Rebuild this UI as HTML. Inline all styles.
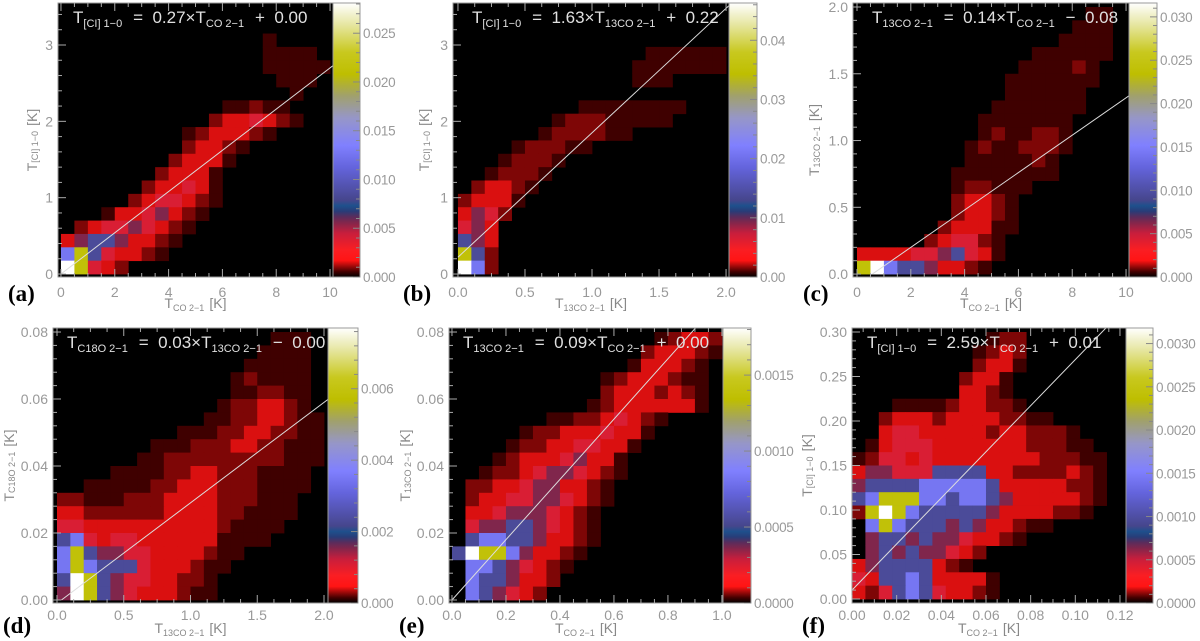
<!DOCTYPE html>
<html><head><meta charset="utf-8"><style>
html,body{margin:0;padding:0;background:#fff;width:1200px;height:641px;overflow:hidden}
svg{display:block}
text{white-space:pre}
</style></head><body>
<svg id="fig" width="1200" height="641" viewBox="0 0 1200 641" xmlns="http://www.w3.org/2000/svg"></svg>
<script>
// ---------- data ----------
const levelValues=[0,0.018,0.032,0.052,0.14,0.2,0.3,0.45,0.76,1.0];
const gridA=["","","15:1","15:1111","15:11111","16:111","17:1","12:11211","11:2334321","9:1233321","9:23321","8:23331","7:23331","6:233431","5:2344321","3:13345321","1:234454321","0:356653321","0:78643321","0:98432"];
const gridB=["","","","14:111111","13:1111111","13:111","","9:11111111","7:122211111","6:1222211","4:122211","3:12221","2:12221","1:23321","0:23331","0:3542","0:453","0:653","0:862","0:972"];
const gridC=["17:11","16:111","15:1111","13:111111","12:111121","11:1111111","11:111111","10:1111111","9:1111111","9:1211221","8:12112221","8:1111121","7:11111111","7:122111","7:23321","7:23321","6:233311","5:234421","0:33334456431","0:8976653321"];
const gridD=["16:111","15:1111","14:11111","13:121111","13:112211","12:1223321","11:112233211","9:11122332211","7:1112223322111","6:11222222222111","4:111122332221111","2:11111223332221111","0:221112223333222111","0:332222223333221111","0:44333333333321111","0:6743443333331111","0:78655443333211","0:7876664333211","0:698654433221","0:598654333211"];
const gridE=["15:12332","14:233321","13:133321","11:12333211","11:23332321","10:123333331","7:112234321","5:1223334331","4:1223344331","3:1233345331","2:12234554321","1:22334553321","1:23344554321","1:3345554321","1:4556654321","1:6776653321","0:6988753321","1:77654321","1:7665332","1:765432"];
const gridF=["10:122","9:1232","9:2331","8:2331","8:3321","3:1111233221","2:2333233332211","2:344333332332221","1:13444333333322211","0:1244343333333322211","0:3554446666332222321","0:5666677777633333221","0:6788877677653333321","0:289876666653333221","0:078766656533211","0:0566565543321","0:0565655432","0:356666321","0:43667633331","0:32467643321"];
const grids=[gridA,gridB,gridC,gridD,gridE,gridF];
const gridXMax=[10,2,10,2,1,0.12];
const gridYMax=[3.5,3.5,2,0.08,0.08,0.30];
const fitSlope=[0.27,1.63,0.14,0.03,0.09,2.59];
const fitIntercept=[0.00,0.22,-0.08,-0.001,0.00,0.01];
const xTickVals=[[0,2,4,6,8,10],[0,0.5,1,1.5,2],[0,2,4,6,8,10],[0,0.5,1,1.5,2],[0,0.2,0.4,0.6,0.8,1.0],[0,0.02,0.04,0.06,0.08,0.10,0.12]];
const xTickLabels=[["0","2","4","6","8","10"],["0.0","0.5","1.0","1.5","2.0"],["0","2","4","6","8","10"],["0.0","0.5","1.0","1.5","2.0"],["0.0","0.2","0.4","0.6","0.8","1.0"],["0.00","0.02","0.04","0.06","0.08","0.10","0.12"]];
const yTickVals=[[0,1,2,3],[0,1,2,3],[0,0.5,1,1.5,2],[0,0.02,0.04,0.06,0.08],[0,0.02,0.04,0.06,0.08],[0,0.05,0.10,0.15,0.20,0.25,0.30]];
const yTickLabels=[["0","1","2","3"],["0","1","2","3"],["0.0","0.5","1.0","1.5","2.0"],["0.00","0.02","0.04","0.06","0.08"],["0.00","0.02","0.04","0.06","0.08"],["0.00","0.05","0.10","0.15","0.20","0.25","0.30"]];
const cbMax=[0.0281,0.0463,0.0316,0.0077,0.00181,0.00318];
const cbTickVals=[[0,0.005,0.010,0.015,0.020,0.025],[0,0.01,0.02,0.03,0.04],[0,0.005,0.010,0.015,0.020,0.025,0.030],[0,0.002,0.004,0.006],[0,0.0005,0.0010,0.0015],[0,0.0005,0.0010,0.0015,0.0020,0.0025,0.0030]];
const cbTickLabels=[["0.000","0.005","0.010","0.015","0.020","0.025"],["0.00","0.01","0.02","0.03","0.04"],["0.000","0.005","0.010","0.015","0.020","0.025","0.030"],["0.000","0.002","0.004","0.006"],["0.0000","0.0005","0.0010","0.0015"],["0.0000","0.0005","0.0010","0.0015","0.0020","0.0025","0.0030"]];
const yVar=["[CI] 1−0","[CI] 1−0","13CO 2−1","C18O 2−1","13CO 2−1","[CI] 1−0"];
const xVar=["CO 2−1","13CO 2−1","CO 2−1","13CO 2−1","CO 2−1","CO 2−1"];
const panelLetters=["(a)","(b)","(c)","(d)","(e)","(f)"];

// ---------- layout ----------
const layout=[
 {L:58,R:333,T:3,B:277,xd:[-0.11,10.11],yd:[-0.039,3.55],cbR:360,eqX:73,ytX:33,row:0},
 {L:453,R:729,T:3,B:277,xd:[-0.037,2.022],yd:[-0.039,3.55],cbR:757,eqX:472,ytX:425,row:0},
 {L:853,R:1129,T:3,B:277,xd:[-0.149,10.11],yd:[-0.022,2.03],cbR:1157,eqX:872,ytX:815,row:0},
 {L:53,R:328,T:328,B:603,xd:[-0.03,2.03],yd:[-0.0009,0.0812],cbR:358,eqX:67,ytX:10,row:1},
 {L:449,R:723,T:328,B:603,xd:[-0.011,1.004],yd:[-0.0009,0.0812],cbR:751,eqX:463,ytX:406,row:1},
 {L:852,R:1126,T:328,B:603,xd:[0,0.1227],yd:[-0.0045,0.3045],cbR:1153,eqX:867,ytX:808,row:1}
];
const cmapStops=[[0,[0,0,0]],[0.02,[70,0,0]],[0.06,[255,20,20]],[0.10,[250,30,35]],[0.16,[200,30,60]],[0.21,[110,40,80]],[0.235,[60,50,110]],[0.245,[20,70,130]],[0.26,[30,80,140]],[0.28,[70,70,140]],[0.40,[100,100,220]],[0.48,[128,128,255]],[0.58,[150,150,200]],[0.66,[160,160,110]],[0.74,[190,190,0]],[0.82,[200,200,30]],[0.92,[230,230,160]],[1,[255,255,255]]];
function cmap(f){
  f=Math.max(0,Math.min(1,f));
  for(let i=1;i<cmapStops.length;i++){
    if(f<=cmapStops[i][0]){
      const a=cmapStops[i-1],b=cmapStops[i],t=(f-a[0])/(b[0]-a[0]);
      const c=a[1].map((v,k)=>Math.round(v+(b[1][k]-v)*t));
      return `rgb(${c[0]},${c[1]},${c[2]})`;
    }
  }
  return "rgb(255,255,255)";
}
const NS="http://www.w3.org/2000/svg";
const svg=document.getElementById('fig');
function mk(tag,attrs,parent){const e=document.createElementNS(NS,tag);for(const k in attrs)e.setAttribute(k,attrs[k]);(parent||svg).appendChild(e);return e;}
function sub(textEl,main,s,mainSize,subSize){
  const a=mk('tspan',{},textEl);a.textContent=main;a.setAttribute('font-size',mainSize);
  if(s){const b=mk('tspan',{dy:subSize*0.35,'font-size':subSize},textEl);b.textContent=s;
    const c=mk('tspan',{dy:-subSize*0.35,'font-size':mainSize},textEl);c.textContent='\u200A';}
}
const defs=mk('defs',{});
const gradEl=mk('linearGradient',{id:'cbgrad',x1:0,y1:1,x2:0,y2:0},defs);
for(let i=0;i<=50;i++){mk('stop',{offset:i/50,'stop-color':cmap(i/50)},gradEl);}

layout.forEach((P,p)=>{
  const g=mk('g',{});
  
  
  const sx=v=>P.L+(v-P.xd[0])/(P.xd[1]-P.xd[0])*(P.R-P.L);
  const sy=v=>P.B-(v-P.yd[0])/(P.yd[1]-P.yd[0])*(P.B-P.T);
  const clip=mk('clipPath',{id:'clip'+p},defs);
  mk('rect',{x:P.L,y:P.T,width:P.R-P.L,height:P.B-P.T},clip);
  const bg=mk('rect',{x:P.L,y:P.T,width:P.R-P.L,height:P.B-P.T,fill:'#000'},g);
  
  
  const hm=mk('g',{'clip-path':`url(#clip${p})`},g);
  
  
  const grid=grids[p],nR=grid.length,nC=20;
  const dx=gridXMax[p]/nC,dy=gridYMax[p]/nR;
  grid.forEach((row,r)=>{
    if(!row)return;
    const [st,digits]=row.split(':');const s0=parseInt(st);
    for(let k=0;k<digits.length;k++){
      const lv=parseInt(digits[k]);if(!lv)continue;
      const c=s0+k;
      const x0=sx(c*dx),x1=sx((c+1)*dx);
      const yTop=sy(gridYMax[p]-r*dy),yBot=sy(gridYMax[p]-(r+1)*dy);
      const cell=mk('rect',{x:x0.toFixed(2),y:yTop.toFixed(2),width:(x1-x0+0.4).toFixed(2),height:(yBot-yTop+0.4).toFixed(2),fill:cmap(levelValues[lv])},hm);
      
      
    }
  });
  const xs=Math.max(0,-fitIntercept[p]/fitSlope[p]),xe=P.xd[1];
  const fl=mk('line',{x1:sx(xs),y1:sy(fitSlope[p]*xs+fitIntercept[p]),x2:sx(xe),y2:sy(fitSlope[p]*xe+fitIntercept[p]),stroke:'#ddd','stroke-width':1,'clip-path':`url(#clip${p})`},g);
  
  
  mk('rect',{x:P.L,y:P.T,width:P.R-P.L,height:P.B-P.T,fill:'none',stroke:'#999','stroke-width':1},g);
  const tg=mk('g',{stroke:'#aaa','stroke-width':1},g);
  const xv=xTickVals[p],yv=yTickVals[p];
  const xstep=xv[1]-xv[0],ystep=yv[1]-yv[0];
  for(let v=xv[0];v<=P.xd[1]+1e-9;v+=xstep/4){
    const major=Math.abs(Math.round((v-xv[0])/xstep)*xstep-(v-xv[0]))<1e-9;const len=major?8:4;const X=sx(v);
    if(X<P.L||X>P.R)continue;
    mk('line',{x1:X,y1:P.B,x2:X,y2:P.B-len},tg);mk('line',{x1:X,y1:P.T,x2:X,y2:P.T+len},tg);
  }
  for(let v=yv[0];v<=P.yd[1]+1e-9;v+=ystep/5){
    const major=Math.abs(Math.round((v-yv[0])/ystep)*ystep-(v-yv[0]))<1e-9;const len=major?8:4;const Y=sy(v);
    if(Y<P.T||Y>P.B)continue;
    mk('line',{x1:P.L,y1:Y,x2:P.L+len,y2:Y},tg);
  }
  const labY=P.row===0?297:620;
  xv.forEach((v,i)=>{const t=mk('text',{x:sx(v),y:labY,'text-anchor':'middle','font-size':14,fill:'#999','font-family':'Liberation Sans, sans-serif'},g);t.textContent=xTickLabels[p][i];
    
    });
  yv.forEach((v,i)=>{const t=mk('text',{x:P.L-5,y:sy(v)+5,'text-anchor':'end','font-size':14,fill:'#999','font-family':'Liberation Sans, sans-serif'},g);t.textContent=yTickLabels[p][i];
    
    });
  const xt=mk('text',{x:(P.L+P.R)/2,y:P.row===0?308:633,'text-anchor':'middle',fill:'#888','font-family':'Liberation Sans, sans-serif'},g);
  
  
  sub(xt,'T',xVar[p],14,9);const xr=mk('tspan',{'font-size':14},xt);xr.textContent=' [K]';
  const cy=(P.T+P.B)/2;
  const yt=mk('text',{x:P.ytX,y:cy,'text-anchor':'middle',fill:'#888','font-family':'Liberation Sans, sans-serif',transform:`rotate(-90 ${P.ytX} ${cy})`,'dominant-baseline':'middle'},g);
  
  
  sub(yt,'T',yVar[p],14,9);const yr=mk('tspan',{'font-size':14},yt);yr.textContent=' [K]';
  const eq=mk('text',{x:P.eqX,y:P.T+20,fill:'#e0e0e0','font-family':'Liberation Sans, sans-serif'},g);
  
  
  const sgn=fitIntercept[p]<0?'−':'+';
  sub(eq,'T',yVar[p],17,11);
  sub(eq,'  =  '+fitSlope[p].toFixed(2)+'×T',xVar[p],17,11);
  const e3=mk('tspan',{'font-size':17},eq);e3.textContent='  '+sgn+'  '+Math.abs(fitIntercept[p]).toFixed(2);
  const cb=mk('rect',{x:P.R,y:P.T,width:P.cbR-P.R,height:P.B-P.T,fill:'url(#cbgrad)',stroke:'#999','stroke-width':1},g);
  
  
  const cby=v=>P.B-v/cbMax[p]*(P.B-P.T);
  const cv=cbTickVals[p],cst=cv[1]-cv[0];
  for(let v=0;v<=cbMax[p]+1e-12;v+=cst/5){const Y=cby(v);const major=Math.abs(Math.round(v/cst)*cst-v)<cst*1e-3;
    mk('line',{x1:P.cbR,y1:Y,x2:P.cbR-(major?7:4),y2:Y,stroke:'#888'},g);}
  cv.forEach((v,i)=>{const t=mk('text',{x:P.cbR+3,y:cby(v)+5,'font-size':13.5,'letter-spacing':-0.3,fill:'#999','font-family':'Liberation Sans, sans-serif'},g);t.textContent=cbTickLabels[p][i];
    
    });
  const pl=mk('text',{x:P.L-50,y:P.row===0?301:633,'font-size':23,'font-weight':'bold',fill:'#000','font-family':'Liberation Serif, serif'},g);
  pl.textContent=panelLetters[p];
  
  
});
</script>
</body></html>
